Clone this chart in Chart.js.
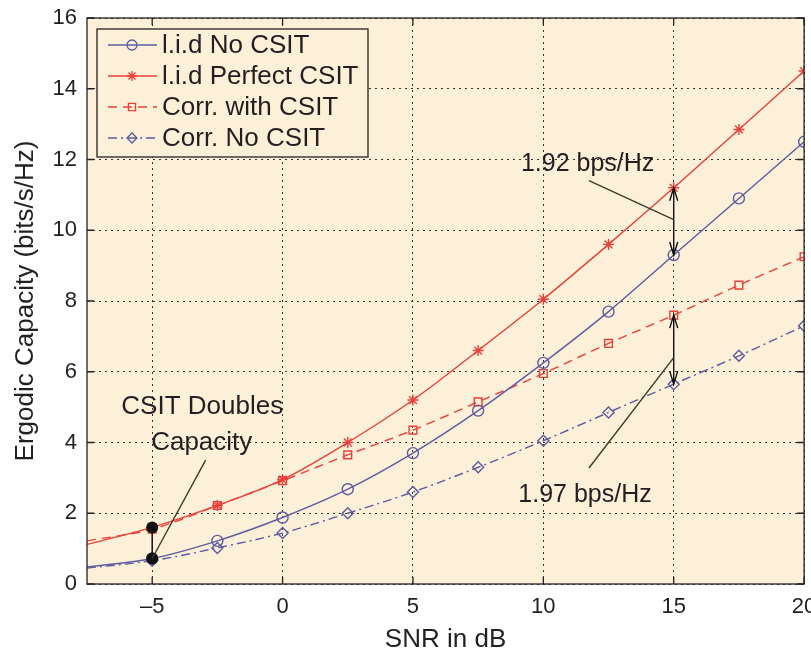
<!DOCTYPE html>
<html lang="en">
<head>
  <meta charset="UTF-8" />
  <title>Ergodic Capacity vs SNR</title>
  <script src="https://cdn.jsdelivr.net/npm/chart.js"></script>
  <style>
    html, body { margin: 0; padding: 0; background: #ffffff; }
    #wrap { width: 811px; height: 651px; }
  </style>
</head>
<body>
<div id="wrap"><canvas id="grafico" width="811" height="651"></canvas></div>
<script>
// values
const snr        = [-7.5, -5, -2.5, 0, 2.5, 5, 7.5, 10, 12.5, 15, 17.5, 20];
const iidNoCsit  = [0.48, 0.72, 1.22, 1.88, 2.68, 3.7, 4.9, 6.25, 7.7, 9.3, 10.9, 12.5];
const iidPerfect = [1.12, 1.6, 2.22, 2.95, 4.0, 5.2, 6.6, 8.05, 9.6, 11.2, 12.85, 14.5];
const corrCsit   = [1.22, 1.55, 2.22, 2.92, 3.65, 4.35, 5.15, 5.95, 6.8, 7.6, 8.45, 9.25];
const corrNoCsit = [0.45, 0.66, 1.02, 1.44, 2.0, 2.6, 3.3, 4.05, 4.85, 5.65, 6.45, 7.3];
const seriesNames = ['l.i.d No CSIT', 'l.i.d Perfect CSIT', 'Corr. with CSIT', 'Corr. No CSIT'];
const xTicks = [-5, 0, 5, 10, 15, 20];
const yTicks = [0, 2, 4, 6, 8, 10, 12, 14, 16];

const azul = '#5c5ca0';
const verm = '#e8403a';
const fonte = '"Liberation Sans", Arial, sans-serif';

function pontos(vals) { return snr.map((x, i) => ({ x: x, y: vals[i] })); }
// no marker on the first (curve-only) point
const raios = snr.map(x => x < -5 ? 0 : 5.5);

function serie(nome, vals, cor, estilo, dash) {
  return {
    label: nome, data: pontos(vals), borderColor: cor, backgroundColor: 'rgba(0,0,0,0)',
    borderWidth: 1.4, borderDash: dash, pointStyle: estilo, pointRadius: raios,
    pointBorderColor: cor, pointBorderWidth: 1.4, pointBackgroundColor: 'rgba(0,0,0,0)',
    cubicInterpolationMode: 'monotone'
  };
}

function seta(ctx, x, y, dir) {
  ctx.beginPath();
  ctx.moveTo(x - 4, y + dir * 13); ctx.lineTo(x, y); ctx.lineTo(x + 4, y + dir * 13);
  ctx.stroke();
}

const fundoPlugin = {
  id: 'fundo',
  beforeDraw(chart) {
    const { ctx, chartArea: a } = chart;
    ctx.save();
    ctx.fillStyle = '#fdf0d8';
    ctx.fillRect(a.left, a.top, a.right - a.left, a.bottom - a.top);
    ctx.restore();
  }
};

const extrasPlugin = {
  id: 'extras',
  afterDatasetsDraw(chart) {
    const { ctx, chartArea: a, scales } = chart;
    const X = v => scales.x.getPixelForValue(v);
    const Y = v => scales.y.getPixelForValue(v);
    ctx.save();
    // box + inward ticks
    ctx.strokeStyle = '#222'; ctx.lineWidth = 1.3; ctx.setLineDash([]);
    ctx.strokeRect(a.left, a.top, a.right - a.left, a.bottom - a.top);
    ctx.beginPath();
    xTicks.forEach(t => { const p = X(t); ctx.moveTo(p, a.bottom); ctx.lineTo(p, a.bottom - 7); ctx.moveTo(p, a.top); ctx.lineTo(p, a.top + 7); });
    yTicks.forEach(t => { const p = Y(t); ctx.moveTo(a.left, p); ctx.lineTo(a.left + 7, p); ctx.moveTo(a.right, p); ctx.lineTo(a.right - 7, p); });
    ctx.stroke();

    // CSIT doubles capacity
    const yLo = iidNoCsit[1], yHi = iidPerfect[1];
    ctx.strokeStyle = '#111'; ctx.lineWidth = 1.5;
    ctx.beginPath(); ctx.moveTo(X(-5), Y(yLo)); ctx.lineTo(X(-5), Y(yHi)); ctx.stroke();
    ctx.fillStyle = '#111';
    [yLo, yHi].forEach(v => { ctx.beginPath(); ctx.arc(X(-5), Y(v), 6, 0, Math.PI * 2); ctx.fill(); });
    ctx.strokeStyle = '#3c3c2c'; ctx.lineWidth = 1.4;
    ctx.beginPath(); ctx.moveTo(X(-5), Y(yLo)); ctx.lineTo(X(-2.95), Y(3.5)); ctx.stroke();

    // gap arrows at 15 dB
    const i15 = snr.indexOf(15);
    const pares = [[iidPerfect[i15], iidNoCsit[i15], [11.75, 11.4], 10.3],
                   [corrCsit[i15], corrNoCsit[i15], [11.75, 3.28], 6.4]];
    pares.forEach(([top, bot, de, alvo]) => {
      ctx.strokeStyle = '#111'; ctx.lineWidth = 1.4;
      ctx.beginPath(); ctx.moveTo(X(15), Y(top)); ctx.lineTo(X(15), Y(bot)); ctx.stroke();
      seta(ctx, X(15), Y(top), 1); seta(ctx, X(15), Y(bot), -1);
      ctx.strokeStyle = '#3c3c2c';
      ctx.beginPath(); ctx.moveTo(X(de[0]), Y(de[1])); ctx.lineTo(X(15), Y(alvo)); ctx.stroke();
    });

    // annotation texts
    ctx.fillStyle = '#231f20'; ctx.font = '26px ' + fonte;
    ctx.textAlign = 'center'; ctx.textBaseline = 'middle';
    ctx.fillText('CSIT Doubles', X(-3.08), Y(5.0));
    ctx.fillText('Capacity', X(-3.1), Y(4.0));
    ctx.font = '25px ' + fonte;
    ctx.fillText('1.92 bps/Hz', X(11.7), Y(11.88));
    ctx.fillText('1.97 bps/Hz', X(11.6), Y(2.5));

    // legend
    const lx = 97, ly = 29, lw = 271, lh = 128;
    ctx.fillStyle = '#fdf0d8'; ctx.fillRect(lx, ly, lw, lh);
    ctx.strokeStyle = '#222'; ctx.lineWidth = 1.3; ctx.strokeRect(lx, ly, lw, lh);
    ctx.font = '26px ' + fonte;
    chart.data.datasets.forEach((ds, k) => {
      const y = ly + 16 + k * 31;
      ctx.strokeStyle = ds.borderColor; ctx.lineWidth = 1.4;
      ctx.setLineDash(ds.borderDash || []);
      ctx.beginPath(); ctx.moveTo(lx + 11, y); ctx.lineTo(lx + 60, y); ctx.stroke();
      ctx.setLineDash([]);
      ctx.lineWidth = 1.3;
      ctx.fillStyle = 'rgba(0,0,0,0)';
      Chart.helpers.drawPoint(ctx, { pointStyle: ds.pointStyle, radius: 5, rotation: 0, borderWidth: 1.3 }, lx + 35, y);
      ctx.fillStyle = '#231f20'; ctx.textAlign = 'left';
      ctx.fillText(ds.label, lx + 65, y + 1);
    });
    ctx.restore();
  }
};

new Chart(document.getElementById('grafico'), {
  type: 'line',
  data: {
    datasets: [
      serie(seriesNames[0], iidNoCsit, azul, 'circle', []),
      serie(seriesNames[1], iidPerfect, verm, 'star', []),
      serie(seriesNames[2], corrCsit, verm, 'rect', [9, 6]),
      serie(seriesNames[3], corrNoCsit, azul, 'rectRot', [9, 4, 2, 4])
    ]
  },
  options: {
    responsive: false, animation: false,
    layout: { padding: { left: 0, right: 6, top: 18, bottom: 0 } },
    plugins: { legend: { display: false }, tooltip: { enabled: false } },
    scales: {
      x: {
        type: 'linear', min: -7.5, max: 20,
        afterBuildTicks: s => { s.ticks = xTicks.map(v => ({ value: v })); },
        afterFit: s => { s.height = 67; s.paddingLeft = 0; s.paddingRight = 0; },
        ticks: { color: '#231f20', padding: 10, font: { family: fonte, size: 22 },
                 callback: v => v < 0 ? '\u2013' + Math.abs(v) : String(v) },
        grid: { color: '#333', lineWidth: 1, drawTicks: false },
        border: { display: false, dash: [2, 4] },
        title: { display: true, text: 'SNR in dB', color: '#231f20', font: { family: fonte, size: 26 }, padding: { top: 2, bottom: -4 } }
      },
      y: {
        min: 0, max: 16,
        afterBuildTicks: s => { s.ticks = yTicks.map(v => ({ value: v })); },
        afterFit: s => { s.width = 87; s.paddingTop = 0; s.paddingBottom = 0; },
        ticks: { color: '#231f20', padding: 10, font: { family: fonte, size: 22 } },
        grid: { color: '#333', lineWidth: 1, drawTicks: false },
        border: { display: false, dash: [2, 4] },
        title: { display: true, text: 'Ergodic Capacity (bits/s/Hz)', color: '#231f20', font: { family: fonte, size: 26 }, padding: { top: 10, bottom: 4 } }
      }
    }
  },
  plugins: [fundoPlugin, extrasPlugin]
});
</script>
</body>
</html>
